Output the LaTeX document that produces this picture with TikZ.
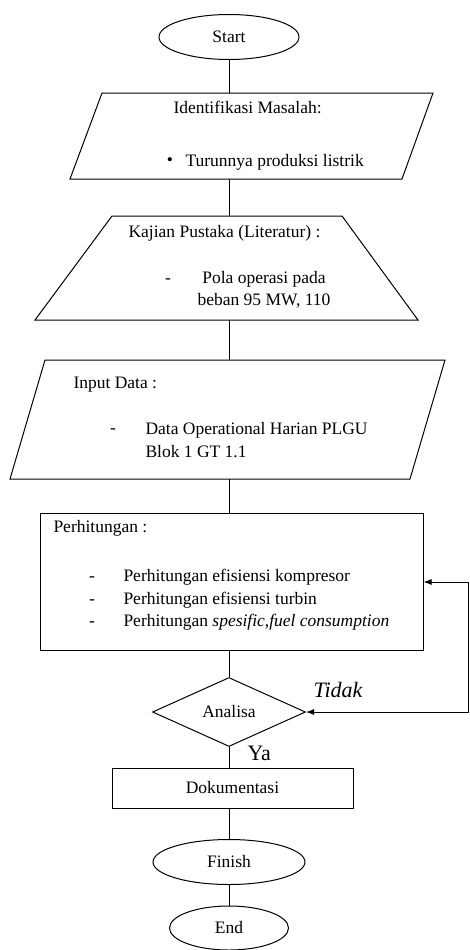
\documentclass[tikz,border=0pt]{standalone}
\usepackage{fontspec}
\setmainfont{Liberation Serif}
\usetikzlibrary{arrows.meta,shapes.geometric}

\begin{document}
\begin{tikzpicture}[x=1pt,y=-1pt,line width=1pt,>={Latex[length=8pt,width=6pt]},
  every node/.style={font=\fontsize{17.5}{22.5}\selectfont,inner sep=0pt},
  term/.style={draw,ellipse},
  proc/.style={draw,rectangle},
  txt/.style={anchor=west},
  big/.style={font=\fontsize{22}{26}\selectfont}]

\useasboundingbox (0,0) rectangle (469,950);

% Start
\node[term,minimum width=140pt,minimum height=45pt] (start) at (229,37) {Start};

% Identifikasi masalah
\draw (102,93) -- (433,93) -- (402,179) -- (70,179) -- cycle;
\coordinate (idtop) at (229,93);
\coordinate (idbot) at (229,179);
\node[txt] (idhead) at (173,107) {Identifikasi Masalah:};
\node (idbullet) at (170,162) {\textbullet};
\node[txt] (iditem) at (185,162) {Turunnya produksi listrik};

% Kajian pustaka
\draw (112,216) -- (342,216) -- (418,320) -- (35,320) -- cycle;
\coordinate (kjtop) at (229,216);
\coordinate (kjbot) at (229,320);
\node[txt] (kjhead) at (128,233) {Kajian Pustaka (Literatur) :};
\node (kjdash) at (168,281) {-};
\node[align=center] (kjitem) at (264,290) {Pola operasi pada\\beban 95 MW, 110};

% Input data
\draw (45,360) -- (445,360) -- (410,479) -- (10,479) -- cycle;
\coordinate (intop) at (229,360);
\coordinate (inbot) at (229,479);
\node[txt] (inhead) at (73,385) {Input Data :};
\node (indash) at (113,431) {-};
\node[txt,align=left] (initem) at (145,440) {Data Operational Harian PLGU\\Blok 1 GT 1.1};

% Perhitungan
\node[proc,minimum width=383pt,minimum height=137pt] (hit) at (231.5,581.5) {};
\node[txt] (hithead) at (53,528) {Perhitungan :};
\node (hitdasha) at (92,579) {-};
\node (hitdashb) at (92,602) {-};
\node (hitdashc) at (92,624) {-};
\node[txt] (hititema) at (123,577) {Perhitungan efisiensi kompresor};
\node[txt] (hititemb) at (123,600) {Perhitungan efisiensi turbin};
\node[txt] (hititemc) at (123,622) {Perhitungan \textit{spesific},\textit{fuel consumption}};

% Analisa
\node[draw,diamond,minimum width=153pt,minimum height=69pt] (analisa) at (229,712) {Analisa};

% Dokumentasi, Finish, End
\node[proc,minimum width=241pt,minimum height=40pt] (doku) at (232.5,788) {Dokumentasi};
\node[term,minimum width=152pt,minimum height=45pt] (finish) at (229,862) {Finish};
\node[term,minimum width=119pt,minimum height=44pt] (stop) at (229,928) {End};

% Connectors
\draw (start) -- (idtop);
\draw (idbot) -- (kjtop);
\draw (kjbot) -- (intop);
\draw (inbot) -- (inbot |- hit.north);
\draw (analisa.north |- hit.south) -- (analisa.north);
\draw (analisa.south) -- (analisa.south |- doku.north);
\draw (finish.north |- doku.south) -- (finish.north);
\draw (finish) -- (stop);

% Loop back
\coordinate (looptop) at (468,582);
\coordinate (loopbot) at (468,712);
\draw[<->] (hit.east |- looptop) -- (looptop) -- (loopbot) -- (analisa.east);
\node[txt,big] (tidak) at (313,690) {\textit{Tidak}};
\node[txt,big] (ya) at (247,753) {Ya};

\end{tikzpicture}
\end{document}
